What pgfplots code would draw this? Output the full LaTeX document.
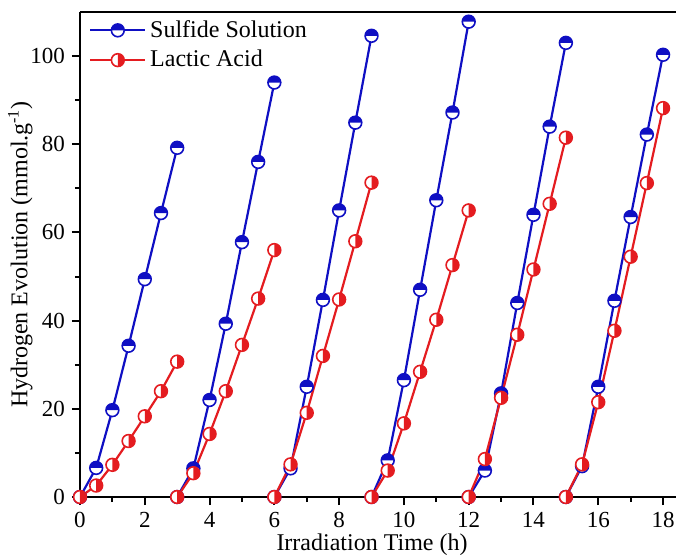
\documentclass[border=0pt]{standalone}
\usepackage{pgfplots}
\pgfplotsset{compat=1.18}
\usepackage{fontspec}
\setmainfont{Liberation Serif}
\definecolor{sblue}{RGB}{15,15,195}
\definecolor{lred}{RGB}{228,28,32}

\pgfdeclareplotmark{halftop}{%
  \begin{pgfscope}\pgfsetfillcolor{white}\pgfpathcircle{\pgfpointorigin}{\pgfplotmarksize}\pgfusepathqfill\end{pgfscope}%
  \pgfpathmoveto{\pgfqpoint{\pgfplotmarksize}{0pt}}%
  \pgfpatharc{0}{180}{\pgfplotmarksize}%
  \pgfpathclose
  \pgfusepathqfill
  \pgfpathcircle{\pgfpointorigin}{\pgfplotmarksize}%
  \pgfusepathqstroke
}
\pgfdeclareplotmark{halfright}{%
  \begin{pgfscope}\pgfsetfillcolor{white}\pgfpathcircle{\pgfpointorigin}{\pgfplotmarksize}\pgfusepathqfill\end{pgfscope}%
  \pgfpathmoveto{\pgfqpoint{0pt}{\pgfplotmarksize}}%
  \pgfpatharc{90}{-90}{\pgfplotmarksize}%
  \pgfpathclose
  \pgfusepathqfill
  \pgfpathcircle{\pgfpointorigin}{\pgfplotmarksize}%
  \pgfusepathqstroke
}

\pgfplotstableread{
x y
0 0
0.5 6.6
1 19.7
1.5 34.3
2 49.4
2.5 64.4
3 79.2
3 nan
3 0
3.5 6.5
4 22
4.5 39.3
5 57.8
5.5 76
6 94
6 nan
6 0
6.5 6.5
7 25
7.5 44.7
8 65
8.5 84.9
9 104.6
9 nan
9 0
9.5 8.3
10 26.5
10.5 47
11 67.3
11.5 87.2
12 107.8
12 nan
12 0
12.5 6
13 23.5
13.5 44
14 64
14.5 84
15 103
15 nan
15 0
15.5 7
16 25
16.5 44.5
17 63.5
17.5 82.2
18 100.3
}\sulfide

\pgfplotstableread{
x y
0 0
0.5 2.6
1 7.3
1.5 12.7
2 18.3
2.5 24
3 30.7
3 nan
3 0
3.5 5.4
4 14.3
4.5 24
5 34.5
5.5 45
6 56
6 nan
6 0
6.5 7.4
7 19.1
7.5 32
8 44.8
8.5 58
9 71.3
9 nan
9 0
9.5 6
10 16.7
10.5 28.4
11 40.2
11.5 52.6
12 65
12 nan
12 0
12.5 8.6
13 22.5
13.5 36.8
14 51.6
14.5 66.5
15 81.5
15 nan
15 0
15.5 7.4
16 21.5
16.5 37.7
17 54.5
17.5 71.2
18 88.2
}\lactic

\begin{document}
\begin{tikzpicture}
\begin{axis}[
  scale only axis, width=298pt, height=242.5pt,
  xmin=0, xmax=18.4, ymin=0, ymax=110,
  axis x line*=bottom, axis y line*=left,
  axis line style={line width=1.3pt},
  tick align=outside,
  xtick={0,2,...,18}, minor xtick={1,3,...,17},
  ytick={0,20,...,100}, minor ytick={10,30,...,90},
  major tick length=4pt, minor tick length=2.5pt,
  every tick/.style={black, line width=1pt},
  tick label style={font=\fontsize{11.5}{13}\selectfont},
  /pgf/number format/assume math mode=true,
  xlabel={Irradiation Time (h)},
  ylabel={Hydrogen Evolution (mmol.g\textsuperscript{-1})},
  label style={font=\fontsize{12}{14}\selectfont},
  xlabel style={at={(axis description cs:0.49,0)}, anchor=center, yshift=-24pt},
  ylabel style={at={(axis description cs:-0.1,0.5)}, anchor=center},
  clip=false,
  unbounded coords=jump,
  legend style={at={(axis description cs:0.005,1.0)}, anchor=north west, draw=none, fill=none, font=\fontsize{12}{14}\selectfont, row sep=1pt},
  legend cell align=left,
  legend image code/.code={\draw[mark repeat=2, mark phase=2] plot coordinates {(0cm,0cm)(0.48cm,0cm)(0.96cm,0cm)};},
  after end axis/.code={\draw[line width=1.3pt] (rel axis cs:0,1) -- (rel axis cs:1,1); \coordinate (SW) at (rel axis cs:0,0);},
]
\addplot[color=sblue, line width=1.1pt, mark=halftop, mark size=3.2pt, mark options={solid, draw=sblue, fill=sblue, line width=0.8pt}] table[x=x,y=y] {\sulfide};
\addlegendentry{Sulfide Solution}
\addplot[color=lred, line width=1.1pt, mark=halfright, mark size=3.2pt, mark options={solid, draw=lred, fill=lred, line width=0.8pt}] table[x=x,y=y] {\lactic};
\addlegendentry{Lactic Acid}
\end{axis}
\pgfresetboundingbox
\path[use as bounding box] (SW) ++(-40pt,-30.5pt) rectangle ++(338pt,279pt);
\end{tikzpicture}
\end{document}
